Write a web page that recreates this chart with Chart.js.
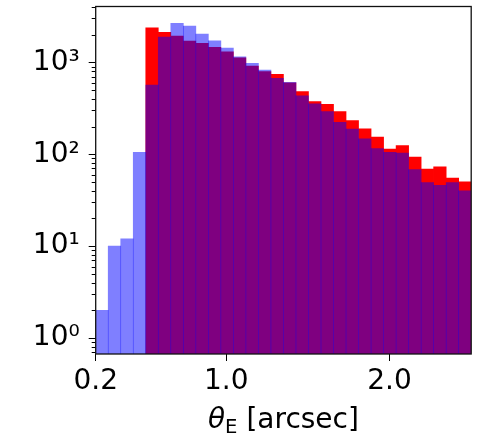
<!DOCTYPE html>
<html><head><meta charset="utf-8">
<script src="https://cdn.jsdelivr.net/npm/chart.js@4/dist/chart.umd.min.js"></script>
<style>html,body{margin:0;padding:0;background:#fff}#wrap{width:478px;height:436px;position:relative}</style>
</head><body><div id="wrap"><canvas id="c" width="478" height="436"></canvas></div>
<script>
// Histogram bin edges (θ_E, arcsec)
const binEdges = [0.2, 0.2767, 0.3533, 0.43, 0.5067, 0.5833, 0.66, 0.7367, 0.8133, 0.89,
  0.9667, 1.0433, 1.12, 1.1967, 1.2733, 1.35, 1.4267, 1.5033, 1.58, 1.6567,
  1.7333, 1.81, 1.8867, 1.9633, 2.04, 2.1167, 2.1933, 2.27, 2.3467, 2.4233, 2.5];
// Counts per bin
const blueCounts = [2, 10, 12, 105, 567, 1880, 2650, 2480, 2030, 1715,
  1430, 1150, 975, 825, 670, 605, 431, 353, 291, 223,
  188, 147, 115, 105, 103, 68, 49, 46, 49, 40];
const redCounts = [null, null, null, null, 2370, 2115, 1928, 1702, 1607, 1455,
  1303, 1122, 912, 791, 741, 600, 480, 374, 350, 291,
  233, 189, 154, 114, 124, 93, 69, 73, 55, 50];
const xTickValues = [0.2, 1.0, 2.0];
const yTickValues = [1, 10, 100, 1000];
const yTickLabels = ['10\u2070', '10\u00B9', '10\u00B2', '10\u00B3'];

const centers = binEdges.slice(0, -1).map((e, i) => (e + binEdges[i + 1]) / 2);
const blueData = centers.map((x, i) => ({x, y: blueCounts[i]}));
const redData = centers.map((x, i) => ({x, y: redCounts[i]})).filter(p => p.y !== null);

const FONT = 'DejaVu Sans';
const FS = 28;

const decor = {
  id: 'decor',
  afterDraw(chart) {
    const {ctx, chartArea: a, scales} = chart;
    ctx.save();
    // minor ticks on log y axis
    ctx.strokeStyle = '#000';
    ctx.lineWidth = 1;
    const ys = scales.y;
    for (let d = -1; d <= 3; d++) {
      for (let m = 2; m <= 9; m++) {
        const v = m * Math.pow(10, d);
        if (v < ys.min || v > ys.max) continue;
        const py = Math.round(ys.getPixelForValue(v)) + 0.5;
        ctx.beginPath();
        ctx.moveTo(a.left - 4, py);
        ctx.lineTo(a.left, py);
        ctx.stroke();
      }
    }
    // frame
    ctx.lineWidth = 1.3;
    ctx.strokeStyle = '#111';
    ctx.strokeRect(a.left, a.top, a.right - a.left, a.bottom - a.top);
    // x axis title: θ_E [arcsec]
    const base = 428;
    const f1 = 'oblique ' + FS + 'px "' + FONT + '"';
    const f2 = (FS * 0.7) + 'px "' + FONT + '"';
    const f3 = FS + 'px "' + FONT + '"';
    ctx.fillStyle = '#000';
    ctx.textBaseline = 'alphabetic';
    ctx.textAlign = 'left';
    ctx.font = f1; const w1 = ctx.measureText('\u03B8').width;
    ctx.font = f2; const w2 = ctx.measureText('E').width;
    ctx.font = f3; const w3 = ctx.measureText(' [arcsec]').width;
    let x0 = (a.left + a.right) / 2 - (w1 + w2 + w3) / 2;
    ctx.font = f1; ctx.fillText('\u03B8', x0, base);
    ctx.font = f2; ctx.fillText('E', x0 + w1, base + 5);
    ctx.font = f3; ctx.fillText(' [arcsec]', x0 + w1 + w2, base);
    ctx.restore();
  }
};

new Chart(document.getElementById('c'), {
  type: 'bar',
  data: {
    datasets: [
      {label: 'blue', data: blueData, backgroundColor: 'rgba(0,0,255,0.5)', borderWidth: 0, order: 0, grouped: false,
       barPercentage: 1, categoryPercentage: 1},
      {label: 'red', data: redData, backgroundColor: 'rgb(255,0,0)', borderWidth: 0, order: 1, grouped: false,
       barPercentage: 1, categoryPercentage: 1}
    ]
  },
  options: {
    responsive: false,
    animation: false,
    devicePixelRatio: 1,
    layout: {padding: {top: 6.5, right: 6.8, left: 0, bottom: 0}},
    plugins: {legend: {display: false}, tooltip: {enabled: false}},
    scales: {
      x: {
        type: 'linear', min: 0.2, max: 2.5, offset: false,
        afterBuildTicks: s => { s.ticks = xTickValues.map(v => ({value: v})); },
        afterFit: s => { s.height = 82; s.paddingLeft = 0; s.paddingRight = 0; },
        ticks: {autoSkip: false, maxRotation: 0, padding: 4, color: '#000',
          font: {family: FONT, size: FS}, callback: v => Number(v).toFixed(1)},
        grid: {display: true, drawOnChartArea: false, drawTicks: true, tickLength: 7, color: '#000', lineWidth: 1, offset: false},
        border: {display: false}
      },
      y: {
        type: 'logarithmic', min: 0.67, max: 4050,
        afterBuildTicks: s => { s.ticks = yTickValues.map(v => ({value: v})); },
        afterFit: s => { s.width = 95.7; s.paddingTop = 0; s.paddingBottom = 0; },
        ticks: {autoSkip: false, padding: 9, color: '#000',
          font: {family: FONT, size: FS},
          callback: (v) => { const i = yTickValues.indexOf(v); return i >= 0 ? yTickLabels[i] : ''; }},
        grid: {display: true, drawOnChartArea: false, drawTicks: true, tickLength: 7, color: '#000', lineWidth: 1},
        border: {display: false}
      }
    }
  },
  plugins: [decor]
});
</script></body></html>
